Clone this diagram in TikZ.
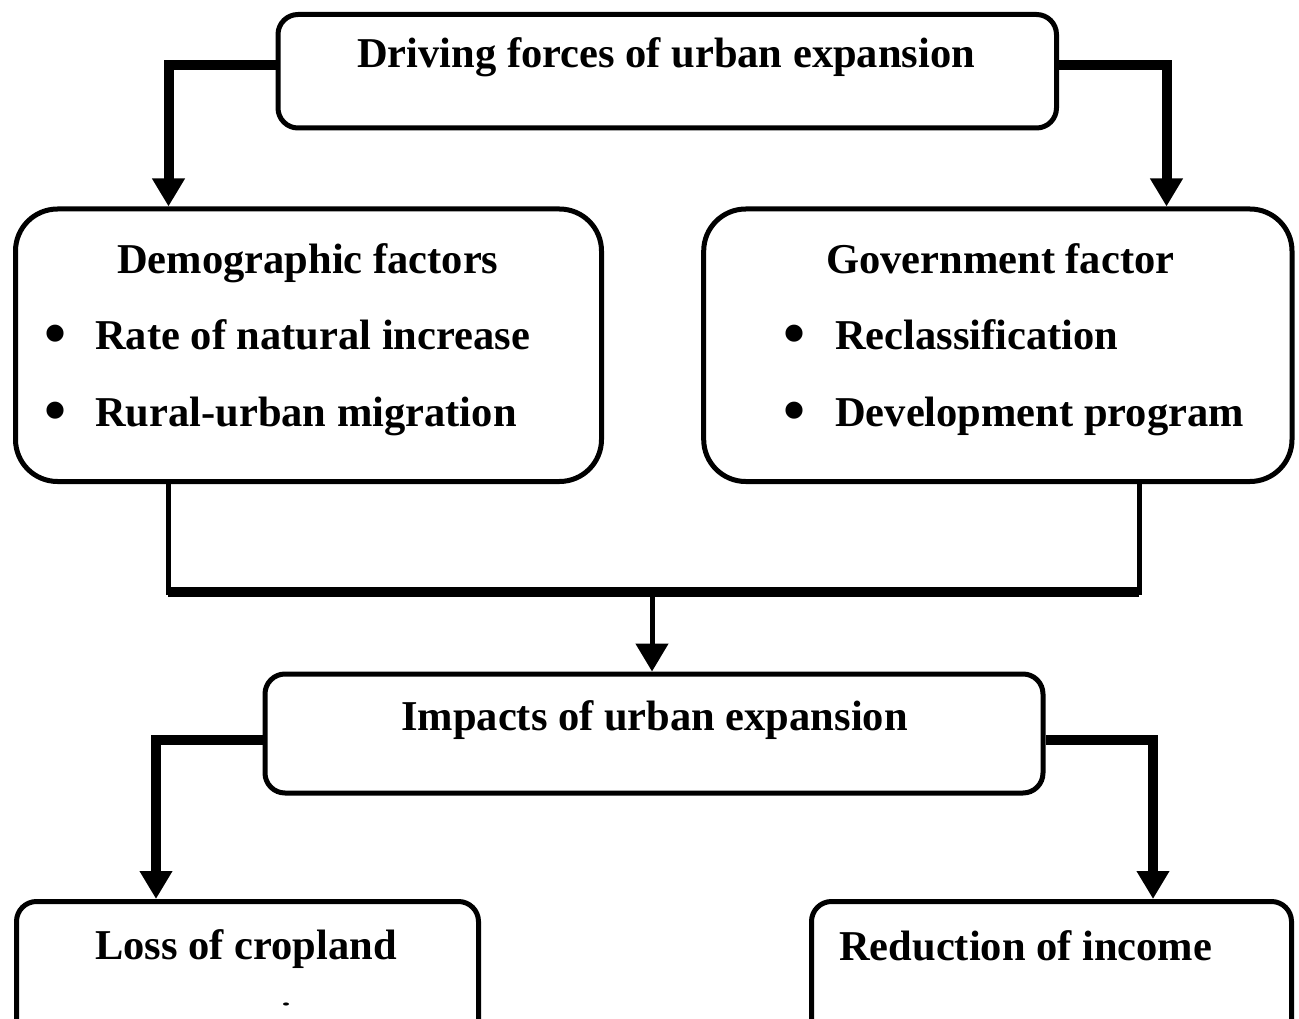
\documentclass[tikz,border=0pt]{standalone}
\usepackage{fontspec}
\setmainfont{Liberation Serif}
\usetikzlibrary{arrows.meta}
\begin{document}
\begin{tikzpicture}[x=1pt,y=-1pt,
  box/.style={draw, line width=5pt, rounded corners=20pt, inner sep=0pt},
  bigbox/.style={box, rounded corners=42pt},
  txt/.style={anchor=base west, inner sep=0pt, font=\fontsize{42.5}{50}\selectfont\bfseries},
  bul/.style={anchor=base, inner sep=0pt, font=\fontsize{63}{70}\selectfont\bfseries},
  bigarrow/.style={line width=10pt, -{Triangle[width=31pt,length=28pt]}},
  thinline/.style={line width=5pt},
  busline/.style={line width=10pt}]
\useasboundingbox (0,0) rectangle (1299,1019);
\clip (0,0) rectangle (1299,1019);
\fill[white] (0,0) rectangle (1299,1019);

% boxes
\node[box, minimum width=778.5pt, minimum height=113.5pt] (top) at (667.25,71.25) {};
\node[bigbox, minimum width=586pt, minimum height=272.5pt] (dem) at (308.5,345.25) {};
\node[bigbox, minimum width=588.3pt, minimum height=272.5pt] (gov) at (997.85,345.25) {};
\node[box, minimum width=778pt, minimum height=119pt] (imp) at (654,733.5) {};
\node[box, minimum width=462pt, minimum height=188.5pt] (loss) at (247.5,995.75) {};
\node[box, minimum width=480pt, minimum height=188.5pt] (red) at (1051.5,995.75) {};

% texts
\node[txt] (ttop) at (357,68) {Driving forces of urban expansion};
\node[txt] (tdem) at (117,273) {Demographic factors};
\node[bul] (b1) at (56,354) {•};
\node[txt] (t1) at (95,349) {Rate of natural increase};
\node[bul] (b2) at (56,431) {•};
\node[txt] (t2) at (95,426) {Rural-urban migration};
\node[txt] (tgov) at (826,273) {Government factor};
\node[bul] (b3) at (795,354) {•};
\node[txt] (t3) at (835,349) {Reclassification};
\node[bul] (b4) at (795,431) {•};
\node[txt] (t4) at (835,426) {Development program};
\node[txt] (timp) at (401,730) {Impacts of urban expansion};
\node[txt] (tloss) at (95,959) {Loss of cropland};
\node[txt] (tred) at (839,960) {Reduction of income};
\fill (286,1004) ellipse (3 and 1.6);

% top connectors
\coordinate (tl) at (168.5,65);
\coordinate (tr) at (1166.5,65);
\draw[bigarrow] (top.west |- tl) -- (tl) -- (tl |- dem.north);
\draw[bigarrow] (top.east |- tr) -- (tr) -- (tr |- gov.north);

% middle junction
\coordinate (ml) at (168,592);
\coordinate (mr) at (1139,592);
\coordinate (mc) at (652,592);
\draw[thinline] (dem.south -| ml) -- ([yshift=-3pt]ml);
\draw[thinline] (gov.south -| mr) -- ([yshift=-3pt]mr);
\draw[busline] (ml) -- (mr);
\draw[thinline, -{Triangle[width=32pt,length=28pt]}] (mc) -- (mc |- imp.north);

% bottom connectors
\coordinate (bl) at (156,740);
\coordinate (br) at (1153,740);
\draw[bigarrow] (imp.west |- bl) -- (bl) -- (bl |- loss.north);
\draw[bigarrow] (imp.east |- br) -- (br) -- (br |- red.north);
\end{tikzpicture}
\end{document}
